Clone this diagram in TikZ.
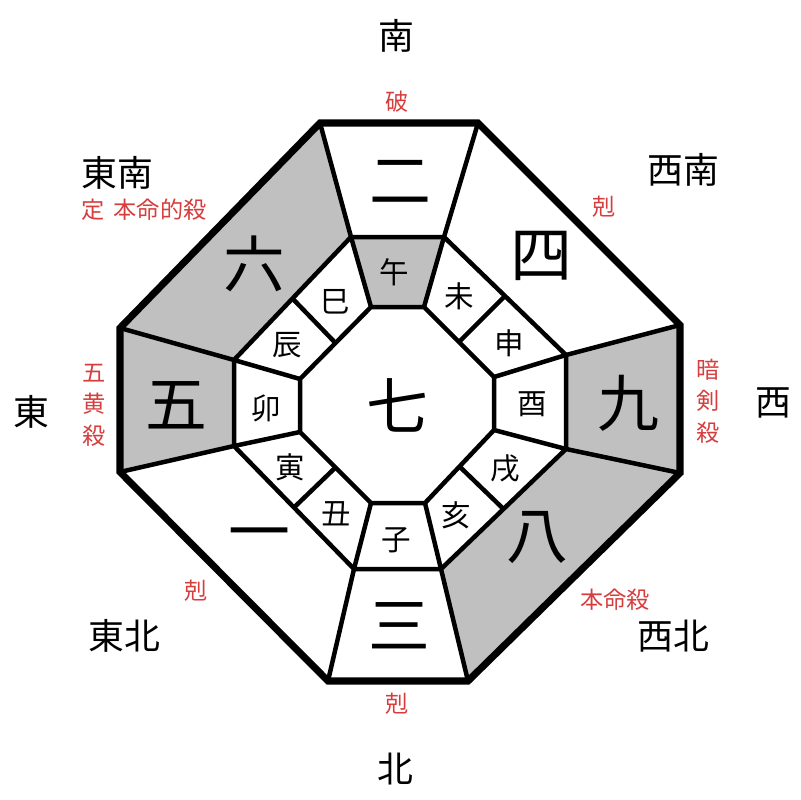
\documentclass[tikz,border=0pt]{standalone}
\usepackage{fontspec}
\setmainfont{Noto Sans CJK JP}
\usetikzlibrary{calc}

\definecolor{sectorgray}{RGB}{192,192,192}
\definecolor{omenred}{RGB}{214,62,62}

\begin{document}
\begin{tikzpicture}[
        x=0.025cm, y=-0.025cm,
        rim/.style = {line width=5pt},
        wall/.style = {line width=3.2pt},
        shade/.style = {fill=sectorgray, draw=none},
        compass/.style = {font=\fontsize{25.5}{25.5}\selectfont, inner sep=0pt},
        number/.style = {font=\fontsize{44}{44}\selectfont, inner sep=0pt},
        zodiac/.style = {font=\fontsize{21}{21}\selectfont, inner sep=0pt},
        remark/.style = {text=omenred, font=\fontsize{16.5}{22.5}\selectfont, align=center, inner sep=0pt}
        ]

        \useasboundingbox (0,0) rectangle (800,800);

        % outer ring
        \coordinate (o1) at (320,123);
        \coordinate (o2) at (478,123);
        \coordinate (o3) at (680,325);
        \coordinate (o4) at (680,473);
        \coordinate (o5) at (468,681);
        \coordinate (o6) at (328,681);
        \coordinate (o7) at (120,472);
        \coordinate (o8) at (120,328);
        % middle ring
        \coordinate (m1) at (351,237);
        \coordinate (m2) at (444,237);
        \coordinate (m3) at (566,355);
        \coordinate (m4) at (566,449);
        \coordinate (m5) at (441,569);
        \coordinate (m6) at (354,569);
        \coordinate (m7) at (234,446);
        \coordinate (m8) at (234,360);
        % centre
        \coordinate (i1) at (371,307);
        \coordinate (i2) at (424,307);
        \coordinate (i3) at (494,377);
        \coordinate (i4) at (494,430);
        \coordinate (i5) at (425,503);
        \coordinate (i6) at (371,503);
        \coordinate (i7) at (300,432);
        \coordinate (i8) at (300,379);

        \fill[shade] (o8) -- (o1) -- (m1) -- (m8) -- cycle;
        \fill[shade] (o7) -- (o8) -- (m8) -- (m7) -- cycle;
        \fill[shade] (o3) -- (o4) -- (m4) -- (m3) -- cycle;
        \fill[shade] (o4) -- (o5) -- (m5) -- (m4) -- cycle;
        \fill[shade] (m1) -- (m2) -- (i2) -- (i1) -- cycle;

        \foreach \k in {1,...,8} {
            \draw[wall] (o\k) -- (m\k);
            \draw[wall] (m\k) -- (i\k);
        }
        \draw[wall] ($(m2)!0.5!(m3)$) -- ($(i2)!0.5!(i3)$);
        \draw[wall] ($(m4)!0.5!(m5)$) -- ($(i4)!0.5!(i5)$);
        \draw[wall] ($(m6)!0.5!(m7)$) -- ($(i6)!0.5!(i7)$);
        \draw[wall] ($(m8)!0.5!(m1)$) -- ($(i8)!0.5!(i1)$);

        \draw[wall] (m1) -- (m2) -- (m3) -- (m4) -- (m5) -- (m6) -- (m7) -- (m8) -- cycle;
        \draw[wall] (i1) -- (i2) -- (i3) -- (i4) -- (i5) -- (i6) -- (i7) -- (i8) -- cycle;
        \draw[rim] (o1) -- (o2) -- (o3) -- (o4) -- (o5) -- (o6) -- (o7) -- (o8) -- cycle;

        % directions
        \node (south) at (396,36)        [compass] {南};
        \node (north) at (395,769)       [compass] {北};
        \node (east) at (31,412)         [compass] {東};
        \node (west) at (773,403)        [compass] {西};
        \node (southeast) at (117,173)   [compass] {東南};
        \node (southwest) at (683,170)   [compass] {西南};
        \node (northeast) at (124,636)   [compass] {東北};
        \node (northwest) at (673,636)   [compass] {西北};

        % remarks
        \node (ha) at (397,102)          [remark] {破};
        \node (koku1) at (604,207)       [remark] {剋};
        \node (koku2) at (397,704)       [remark] {剋};
        \node (koku3) at (196,591)       [remark] {剋};
        \node (teki) at (144,210)        [remark] {定\,\ 本命的殺};
        \node (honmei) at (615,600)      [remark] {本命殺};
        \node (goou) at (94,405)         [remark] {五\\黄\\殺};
        \node (anken) at (708,401)       [remark] {暗\\剣\\殺};

        % stars
        \node (n7) at (397,405)          [number] {七};
        \node (n2) at (400,182)          [number] {二};
        \node (n4) at (541,256)          [number] {四};
        \node (n9) at (628,403)          [number] {九};
        \node (n8) at (537,538)          [number] {八};
        \node (n3) at (399,626)          [number] {三};
        \node (n1) at (259,541)          [number] {一};
        \node (n5) at (176,405)          [number] {五};
        \node (n6) at (254,264)          [number] {六};

        % branches
        \node (uma) at (394,272)         [zodiac] {午};
        \node (hitsuji) at (459,296)     [zodiac] {未};
        \node (saru) at (509,343)        [zodiac] {申};
        \node (tori) at (532,404)        [zodiac] {酉};
        \node (inu) at (505,469)         [zodiac] {戌};
        \node (inoshishi) at (456,515)   [zodiac] {亥};
        \node (nezumi) at (396,540)      [zodiac] {子};
        \node (ushi) at (336,514)        [zodiac] {丑};
        \node (tora) at (290,467)        [zodiac] {寅};
        \node (usagi) at (266,408)       [zodiac] {卯};
        \node (tatsu) at (287,345)       [zodiac] {辰};
        \node (hebi) at (335,302)        [zodiac] {巳};

    \end{tikzpicture}
\end{document}
